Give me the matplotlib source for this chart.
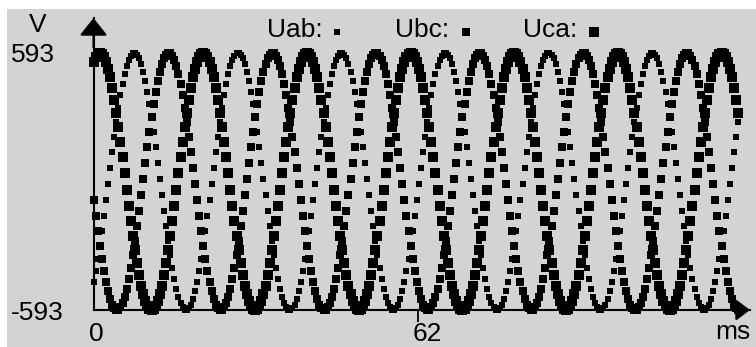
import numpy as np
import matplotlib
matplotlib.use("Agg")
from matplotlib import pyplot as plt
from matplotlib.lines import Line2D
from matplotlib.patches import Rectangle
from matplotlib.transforms import ScaledTranslation

plt.rcParams['font.family'] = ['Liberation Sans', 'DejaVu Sans']

# sampled line voltages (V), one sample every 0.396 ms
sample_ms = 0.396

uab = [-465, -415, -359, -297, -230, -159, -87, -12, 62, 135,
       207, 275, 338, 397, 449, 494, 531, 560, 580, 591,
       592, 585, 568, 542, 507, 465, 415, 359, 297, 230,
       159, 87, 12, -62, -135, -207, -275, -338, -397, -449,
       -494, -531, -560, -580, -591, -592, -585, -568, -542, -507,
       -465, -415, -359, -297, -230, -159, -87, -12, 62, 135,
       207, 275, 338, 397, 449, 494, 531, 560, 580, 591,
       592, 585, 568, 542, 507, 465, 415, 359, 297, 230,
       159, 87, 12, -62, -135, -207, -275, -338, -397, -449,
       -494, -531, -560, -580, -591, -592, -585, -568, -542, -507,
       -465, -415, -359, -297, -230, -159, -87, -12, 62, 135,
       207, 275, 338, 397, 449, 494, 531, 560, 580, 591,
       592, 585, 568, 542, 507, 465, 415, 359, 297, 230,
       159, 87, 12, -62, -135, -207, -275, -338, -397, -449,
       -494, -531, -560, -580, -591, -592, -585, -568, -542, -507,
       -465, -415, -359, -297, -230, -159, -87, -12, 62, 135,
       207, 275, 338, 397, 449, 494, 531, 560, 580, 591,
       592, 585, 568, 542, 507, 465, 415, 359, 297, 230,
       159, 87, 12, -62, -135, -207, -275, -338, -397, -449,
       -494, -531, -560, -580, -591, -592, -585, -568, -542, -507,
       -465, -415, -359, -297, -230, -159, -87, -12, 62, 135,
       207, 275, 338, 397, 449, 494, 531, 560, 580, 591,
       592, 585, 568, 542, 507, 465, 415, 359, 297, 230,
       159, 87, 12, -62, -135, -207, -275, -338, -397, -449,
       -494, -531, -560, -580, -591, -592, -585, -568, -542, -507,
       -465, -415, -359, -297, -230, -159, -87, -12, 62, 135,
       207, 275, 338, 397, 449, 494, 531, 560, 580, 591,
       592, 585, 568, 542, 507, 465, 415, 359, 297, 230,
       159, 87, 12, -62, -135, -207, -275, -338, -397, -449,
       -494, -531, -560, -580, -591, -592, -585, -568, -542, -507,
       -465, -415, -359, -297, -230, -159, -87, -12, 62, 135,
       207, 275]

ubc = [-87, -159, -230, -297, -359, -415,
       -465, -507, -542, -568, -585, -592, -591, -580, -560, -531,
       -494, -449, -397, -338, -275, -207, -135, -62, 12, 87,
       159, 230, 297, 359, 415, 465, 507, 542, 568, 585,
       592, 591, 580, 560, 531, 494, 449, 397, 338, 275,
       207, 135, 62, -12, -87, -159, -230, -297, -359, -415,
       -465, -507, -542, -568, -585, -592, -591, -580, -560, -531,
       -494, -449, -397, -338, -275, -207, -135, -62, 12, 87,
       159, 230, 297, 359, 415, 465, 507, 542, 568, 585,
       592, 591, 580, 560, 531, 494, 449, 397, 338, 275,
       207, 135, 62, -12, -87, -159, -230, -297, -359, -415,
       -465, -507, -542, -568, -585, -592, -591, -580, -560, -531,
       -494, -449, -397, -338, -275, -207, -135, -62, 12, 87,
       159, 230, 297, 359, 415, 465, 507, 542, 568, 585,
       592, 591, 580, 560, 531, 494, 449, 397, 338, 275,
       207, 135, 62, -12, -87, -159, -230, -297, -359, -415,
       -465, -507, -542, -568, -585, -592, -591, -580, -560, -531,
       -494, -449, -397, -338, -275, -207, -135, -62, 12, 87,
       159, 230, 297, 359, 415, 465, 507, 542, 568, 585,
       592, 591, 580, 560, 531, 494, 449, 397, 338, 275,
       207, 135, 62, -12, -87, -159, -230, -297, -359, -415,
       -465, -507, -542, -568, -585, -592, -591, -580, -560, -531,
       -494, -449, -397, -338, -275, -207, -135, -62, 12, 87,
       159, 230, 297, 359, 415, 465, 507, 542, 568, 585,
       592, 591, 580, 560, 531, 494, 449, 397, 338, 275,
       207, 135, 62, -12, -87, -159, -230, -297, -359, -415,
       -465, -507, -542, -568, -585, -592, -591, -580, -560, -531,
       -494, -449, -397, -338, -275, -207, -135, -62, 12, 87,
       159, 230, 297, 359, 415, 465, 507, 542, 568, 585,
       592, 591, 580, 560, 531, 494, 449, 397, 338, 275,
       207, 135, 62, -12, -87, -159, -230, -297, -359, -415,
       -465, -507, -542, -568, -585, -592]

uca = [551, 574, 588,
       593, 588, 574, 551, 520, 480, 432, 378, 318, 252,
       183, 111, 37, -37, -111, -183, -252, -318, -378, -432,
       -480, -520, -551, -574, -588, -593, -588, -574, -551, -520,
       -480, -432, -378, -318, -252, -183, -111, -37, 37, 111,
       183, 252, 318, 378, 432, 480, 520, 551, 574, 588,
       593, 588, 574, 551, 520, 480, 432, 378, 318, 252,
       183, 111, 37, -37, -111, -183, -252, -318, -378, -432,
       -480, -520, -551, -574, -588, -593, -588, -574, -551, -520,
       -480, -432, -378, -318, -252, -183, -111, -37, 37, 111,
       183, 252, 318, 378, 432, 480, 520, 551, 574, 588,
       593, 588, 574, 551, 520, 480, 432, 378, 318, 252,
       183, 111, 37, -37, -111, -183, -252, -318, -378, -432,
       -480, -520, -551, -574, -588, -593, -588, -574, -551, -520,
       -480, -432, -378, -318, -252, -183, -111, -37, 37, 111,
       183, 252, 318, 378, 432, 480, 520, 551, 574, 588,
       593, 588, 574, 551, 520, 480, 432, 378, 318, 252,
       183, 111, 37, -37, -111, -183, -252, -318, -378, -432,
       -480, -520, -551, -574, -588, -593, -588, -574, -551, -520,
       -480, -432, -378, -318, -252, -183, -111, -37, 37, 111,
       183, 252, 318, 378, 432, 480, 520, 551, 574, 588,
       593, 588, 574, 551, 520, 480, 432, 378, 318, 252,
       183, 111, 37, -37, -111, -183, -252, -318, -378, -432,
       -480, -520, -551, -574, -588, -593, -588, -574, -551, -520,
       -480, -432, -378, -318, -252, -183, -111, -37, 37, 111,
       183, 252, 318, 378, 432, 480, 520, 551, 574, 588,
       593, 588, 574, 551, 520, 480, 432, 378, 318, 252,
       183, 111, 37, -37, -111, -183, -252, -318, -378, -432,
       -480, -520, -551, -574, -588, -593, -588, -574, -551, -520,
       -480, -432, -378, -318, -252, -183, -111, -37, 37, 111,
       183, 252, 318, 378, 432, 480, 520, 551, 574, 588,
       593, 588, 574, 551, 520, 480, 432, 378, 318]

series_names = ['Uab', 'Ubc', 'Uca']
x_ticks = [0, 62]
y_ticks = [-593, 593]

W, H = 756, 347
bg = '#d3d3d3'
sizes = {'Uab': 4.0, 'Ubc': 5.4, 'Uca': 7.2}


def fx(px):
    return px / W


def fy(py):
    return 1 - py / H


fig = plt.figure(figsize=(W / 100, H / 100), dpi=100)
fig.patch.set_facecolor('white')
fig.add_artist(Rectangle((fx(7), 0), 1, fy(9), transform=fig.transFigure,
                         facecolor=bg, edgecolor='none', zorder=-5))

# axes: t=0 at x=93.5px, 5.234 px per ms; -593 at y=310px, 593 at y=53px
ax = fig.add_axes([fx(93.5), fy(310), (750 - 93.5) / W, (310 - 18) / H])
ax.set_facecolor('none')
ax.set_xlim(0, (750 - 93.5) / 5.234)
ax.set_ylim(-593, 593 + (53 - 18) * 1186 / 257)

t = np.arange(len(uca)) * sample_ms
for name, vals in zip(series_names, [uab, ubc, uca]):
    ax.plot(t, vals, ls='none', marker='s', ms=sizes[name], mew=0,
            color='black', clip_on=False, zorder=3)

for side in ['top', 'right']:
    ax.spines[side].set_visible(False)
for side in ['left', 'bottom']:
    ax.spines[side].set_linewidth(1.5)
    ax.spines[side].set_color('black')

ax.set_xticks(x_ticks)
ax.set_xticklabels([str(v) for v in x_ticks])
ax.set_yticks(y_ticks)
ax.set_yticklabels([str(v) for v in y_ticks])
ax.tick_params(axis='x', length=8.6, width=1.3, direction='out', pad=0,
               labelsize=19, colors='black')
ax.tick_params(axis='y', length=0, pad=59.4, labelsize=19, colors='black')
ax.xaxis.get_major_ticks()[0].tick1line.set_visible(False)
shift = ScaledTranslation(-0.05, 0, fig.dpi_scale_trans)
for lab in ax.get_xticklabels():
    lab.set_horizontalalignment('left')
    lab.set_transform(lab.get_transform() + shift)
for lab in ax.get_yticklabels():
    lab.set_horizontalalignment('left')

# axis arrows
ax.annotate('', xy=(0, 1), xycoords='axes fraction', xytext=(0, 0.9),
            arrowprops=dict(arrowstyle='-|>,head_length=1.08,head_width=0.86',
                            mutation_scale=10, lw=1.5, color='black',
                            shrinkA=0, shrinkB=0))
ax.annotate('', xy=(1, 0), xycoords='axes fraction', xytext=(0.95, 0),
            arrowprops=dict(arrowstyle='-|>,head_length=0.86,head_width=0.65',
                            mutation_scale=10, lw=1.5, color='black',
                            shrinkA=0, shrinkB=0))

fig.text(fx(38), fy(25), 'V', ha='center', va='center', fontsize=19)
fig.text(fx(733), fy(332), 'ms', ha='center', va='center', fontsize=19)

# legend: label then marker
legend_x = {'Uab': (267, 336.5), 'Ubc': (395, 466), 'Uca': (523, 594)}
for name in series_names:
    tx, mx = legend_x[name]
    fig.text(fx(tx), fy(30), name + ':', ha='left', va='center', fontsize=19)
    fig.add_artist(Line2D([fx(mx)], [fy(32)], marker='s', ms=sizes[name],
                          mew=0, color='black', transform=fig.transFigure))

fig.savefig('out.png', dpi=100, facecolor=fig.get_facecolor())
